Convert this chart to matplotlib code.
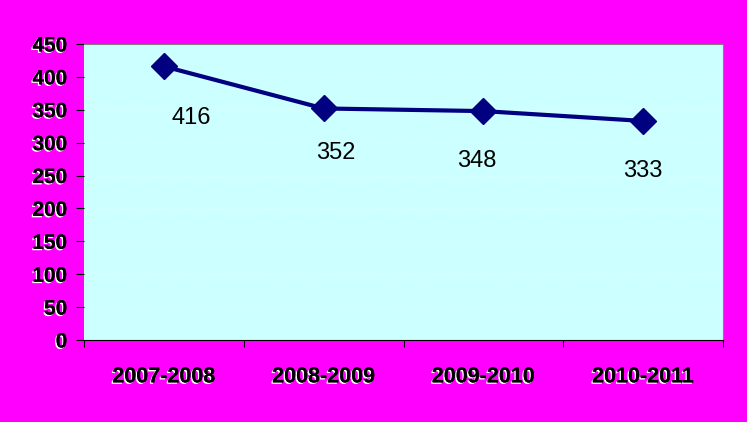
import matplotlib.pyplot as plt
import matplotlib.patheffects as pe

davrlar = ["2007-2008", "2008-2009", "2009-2010", "2010-2011"]
qiymatlar = [416, 352, 348, 333]
y_ticks = [0, 50, 100, 150, 200, 250, 300, 350, 400, 450]

plt.rcParams['font.family'] = ['Liberation Sans', 'DejaVu Sans']

fig = plt.figure(figsize=(7.47, 4.22), dpi=100, facecolor="#ff00ff")
ax = fig.add_axes([84 / 747, 1 - 340 / 422, 639 / 747, 296 / 422])
ax.set_facecolor("#ccffff")

x = [i + 0.5 for i in range(len(davrlar))]
ax.plot(x, qiymatlar, color="#000080", linewidth=3, marker="D", markersize=13)

# yorliqlar nuqtalardan pastda
siljish = [(20, -37), (9, -32), (-5, -36), (0, -36)]
for xi, q, s in zip(x, qiymatlar, siljish):
    ax.annotate(str(q), (xi, q), xytext=s, textcoords="offset points",
                ha="center", va="center", fontsize=17, color="black")

ax.set_xlim(0, 4)
ax.set_ylim(0, 450)
ax.set_yticks(y_ticks)
ax.set_xticks([0, 1, 2, 3, 4])
ax.set_xticklabels([])
ax.set_xticks(x, minor=True)
ax.set_xticklabels(davrlar, minor=True)
ax.tick_params(axis="x", which="minor", length=0, pad=19)
ax.tick_params(axis="x", which="major", length=5, direction="out", color="black")
ax.tick_params(axis="y", length=6, direction="out", color="black", pad=6)

soya = [pe.withSimplePatchShadow(offset=(-1, -1), shadow_rgbFace="white", alpha=1), pe.Normal()]
for t in ax.get_yticklabels():
    t.set_fontsize(15)
    t.set_fontweight("bold")
    t.set_path_effects(soya)
for t in ax.get_xticklabels(minor=True):
    t.set_fontsize(15.5)
    t.set_fontweight("bold")
    t.set_path_effects(soya)

ax.grid(axis="y", color="white", linestyle=":", linewidth=0.8, alpha=0.35)
ax.set_axisbelow(True)

ax.spines["left"].set_visible(False)
ax.spines["bottom"].set_color("black")
ax.spines["top"].set_color("#808080")
ax.spines["right"].set_color("#808080")

fig.savefig("out.png", dpi=100, facecolor=fig.get_facecolor())
